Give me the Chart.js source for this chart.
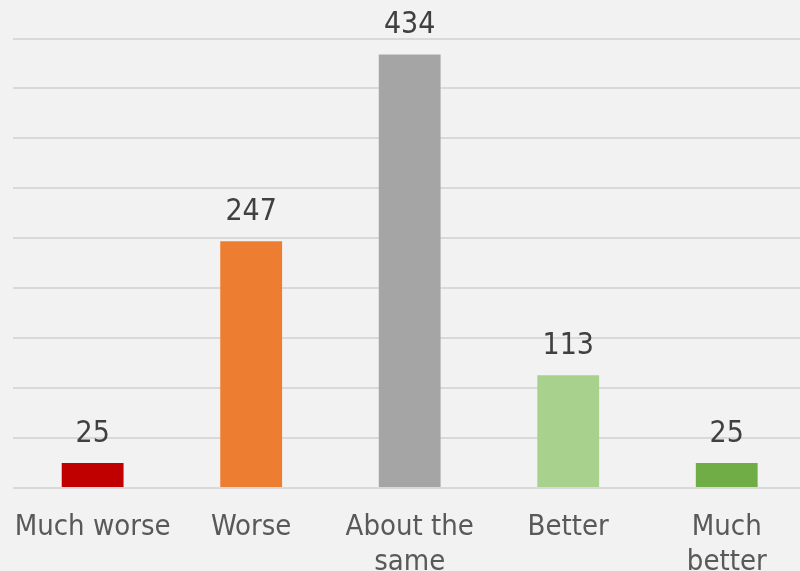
<!DOCTYPE html>
<html>
<head>
<meta charset="utf-8">
<script src="https://cdn.jsdelivr.net/npm/chart.js@4"></script>
<style>
  html, body { margin: 0; padding: 0; background: #f2f2f2; overflow: hidden; }
  #wrap { width: 806px; height: 571px; }
</style>
</head>
<body>
<div id="wrap"><canvas id="c" width="806" height="571"></canvas></div>
<script>
// Responses per category
const categories = ['Much worse', 'Worse', ['About the', 'same'], 'Better', ['Much', 'better']];
const counts = [25, 247, 434, 113, 25];
const barColors = ['#c00000', '#ed7d31', '#a5a5a5', '#a9d18e', '#70ad47'];
const yMax = 450;
const yStep = 50;

const FONT = "'DejaVu Sans Condensed', 'DejaVu Sans', sans-serif";

// Draws each bar's value above it
const valueLabels = {
  id: 'valueLabels',
  afterDatasetsDraw(chart) {
    const ctx = chart.ctx;
    const meta = chart.getDatasetMeta(0);
    ctx.save();
    ctx.font = '30px ' + FONT;
    ctx.fillStyle = '#404040';
    ctx.textAlign = 'center';
    ctx.textBaseline = 'alphabetic';
    meta.data.forEach((bar, i) => {
      ctx.fillText(String(chart.data.datasets[0].data[i]), bar.x, bar.y - 21.5);
    });
    ctx.restore();
  }
};

new Chart(document.getElementById('c'), {
  type: 'bar',
  data: {
    labels: categories,
    datasets: [{
      data: counts,
      backgroundColor: barColors,
      borderWidth: 0,
      categoryPercentage: 1,
      barPercentage: 0.39
    }]
  },
  options: {
    responsive: false,
    animation: false,
    layout: { padding: { left: 7, right: 0, top: 38.5, bottom: 0 } },
    plugins: { legend: { display: false }, tooltip: { enabled: false } },
    scales: {
      x: {
        grid: { display: false },
        border: { display: false },
        ticks: {
          color: '#595959',
          font: { family: FONT, size: 29 },
          padding: 14,
          maxRotation: 0,
          autoSkip: false
        },
        afterFit(scale) { scale.height = 83; }
      },
      y: {
        min: 0,
        max: yMax,
        border: { display: false },
        grid: { color: '#d9d9d9', lineWidth: 2, drawTicks: false },
        ticks: { display: false, stepSize: yStep },
        afterFit(scale) { scale.width = 0; }
      }
    }
  },
  plugins: [valueLabels]
});
</script>
</body>
</html>
